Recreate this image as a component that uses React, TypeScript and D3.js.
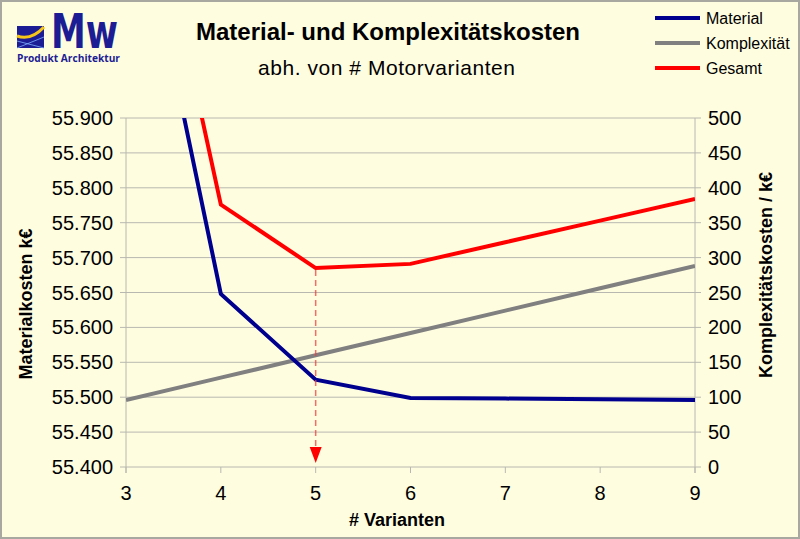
import React from "react";
import * as d3 from "d3";

const variants = [3, 4, 5, 6, 7, 8, 9];
const material = [56.3, 55.648, 55.525, 55.499, 55.498, 55.497, 55.496];
const komplexitaet = [96, 128, 160, 192, 224, 256, 288];
const gesamt = [56.4, 55.776, 55.685, 55.691, 55.722, 55.753, 55.784];
const leftTicks = [55.4, 55.45, 55.5, 55.55, 55.6, 55.65, 55.7, 55.75, 55.8, 55.85, 55.9];
const rightTicks = [0, 50, 100, 150, 200, 250, 300, 350, 400, 450, 500];
const optimum = 5;

const W = 800, H = 539;
const M = { left: 126, right: 695, top: 118, bottom: 467 };

const fmtLeft = (v: number) => v.toFixed(3);

export default function App() {
  const x = d3.scaleLinear().domain([3, 9]).range([M.left, M.right]);
  const yL = d3.scaleLinear().domain([55.4, 55.9]).range([M.bottom, M.top]);
  const yR = d3.scaleLinear().domain([0, 500]).range([M.bottom, M.top]);

  const lineL = d3.line<number>().x((_, i) => x(variants[i])).y((d) => yL(d));
  const lineR = d3.line<number>().x((_, i) => x(variants[i])).y((d) => yR(d));

  const font = "'Liberation Sans', Arial, sans-serif";
  const gridColor = "#b8b8b0";
  const gIdx = variants.indexOf(optimum);

  return (
    <svg width={W} height={H} style={{ position: "absolute", left: 0, top: 0 }} fontFamily={font}>
      <defs>
        <clipPath id="plot">
          <rect x={M.left} y={M.top} width={M.right - M.left} height={M.bottom - M.top} />
        </clipPath>
      </defs>
      <rect x={1} y={1} width={W - 2} height={H - 2} fill="#fffde0" stroke="#a8a8a0" strokeWidth={2} />

      {/* logo */}
      <g>
        <rect x={17} y={26} width={27} height={22} fill="#1c1c94" />
        <path d="M17,36 Q31,41 44,27" stroke="#f5c518" strokeWidth={3} fill="none" />
        <path d="M17,41 L44,48 M17,48 L44,37" stroke="#7fb0ff" strokeWidth={0.8} fill="none" />
        <text x={51} y={48} fontSize={48} fontWeight="bold" fill="#1c1c94" fontFamily="'DejaVu Sans', sans-serif" textLength={67} lengthAdjust="spacingAndGlyphs">Mw</text>
        <text x={17} y={62} fontSize={10.5} fontWeight="bold" fill="#1c1c94" fontFamily="'Open Sans', sans-serif" textLength={103} lengthAdjust="spacingAndGlyphs">Produkt Architektur</text>
      </g>

      {/* titles */}
      <text x={388} y={40} textAnchor="middle" fontSize={24} fontWeight="bold" fill="#000">Material- und Komplexitätskosten</text>
      <text x={258} y={75} fontSize={21} fill="#000" textLength={257} lengthAdjust="spacing">abh. von # Motorvarianten</text>

      {/* legend */}
      {[
        { name: "Material", color: "#00008f" },
        { name: "Komplexität", color: "#808080" },
        { name: "Gesamt", color: "#ff0000" },
      ].map((l, i) => (
        <g key={l.name}>
          <line x1={655} x2={700} y1={18 + i * 25} y2={18 + i * 25} stroke={l.color} strokeWidth={4} />
          <text x={706} y={24 + i * 25} fontSize={16} fill="#000">{l.name}</text>
        </g>
      ))}

      {/* grid */}
      {leftTicks.map((t) => (
        <g key={t}>
          <line x1={M.left - 6} x2={M.right + 6} y1={yL(t)} y2={yL(t)} stroke={gridColor} strokeWidth={1} />
          <text x={113} y={yL(t) + 7} textAnchor="end" fontSize={20} fill="#000">{fmtLeft(t)}</text>
        </g>
      ))}
      {rightTicks.map((t) => (
        <text key={t} x={708} y={yR(t) + 7} fontSize={20} fill="#000">{t}</text>
      ))}
      <line x1={M.left} x2={M.left} y1={M.top} y2={M.bottom + 6} stroke={gridColor} />
      <line x1={M.right} x2={M.right} y1={M.top} y2={M.bottom + 6} stroke={gridColor} />
      {variants.map((v) => (
        <g key={v}>
          <line x1={x(v)} x2={x(v)} y1={M.bottom} y2={M.bottom + 6} stroke={gridColor} />
          <text x={x(v)} y={500} textAnchor="middle" fontSize={20} fill="#000">{v}</text>
        </g>
      ))}

      {/* axis titles */}
      <text x={397} y={526} textAnchor="middle" fontSize={18} fontWeight="bold" fill="#000"># Varianten</text>
      <text transform={`translate(32,304) rotate(-90)`} textAnchor="middle" fontSize={18} fontWeight="bold" fill="#000">Materialkosten k€</text>
      <text transform={`translate(772,275) rotate(-90)`} textAnchor="middle" fontSize={18} fontWeight="bold" fill="#000">Komplexitätskosten / k€</text>

      {/* series */}
      <g clipPath="url(#plot)" fill="none" strokeWidth={4} strokeLinejoin="miter">
        <path d={lineR(komplexitaet) || ""} stroke="#808080" />
        <path d={lineL(material) || ""} stroke="#00008f" />
        <path d={lineL(gesamt) || ""} stroke="#ff0000" />
      </g>

      {/* optimum marker */}
      <line x1={x(optimum)} x2={x(optimum)} y1={yL(gesamt[gIdx]) + 2} y2={M.bottom - 20} stroke="#f03c3c" strokeOpacity={0.75} strokeWidth={1.5} strokeDasharray="6,4" />
      <path d={`M${x(optimum) - 6},${M.bottom - 20} L${x(optimum) + 6},${M.bottom - 20} L${x(optimum)},${M.bottom - 4} Z`} fill="#ff0000" />
    </svg>
  );
}
